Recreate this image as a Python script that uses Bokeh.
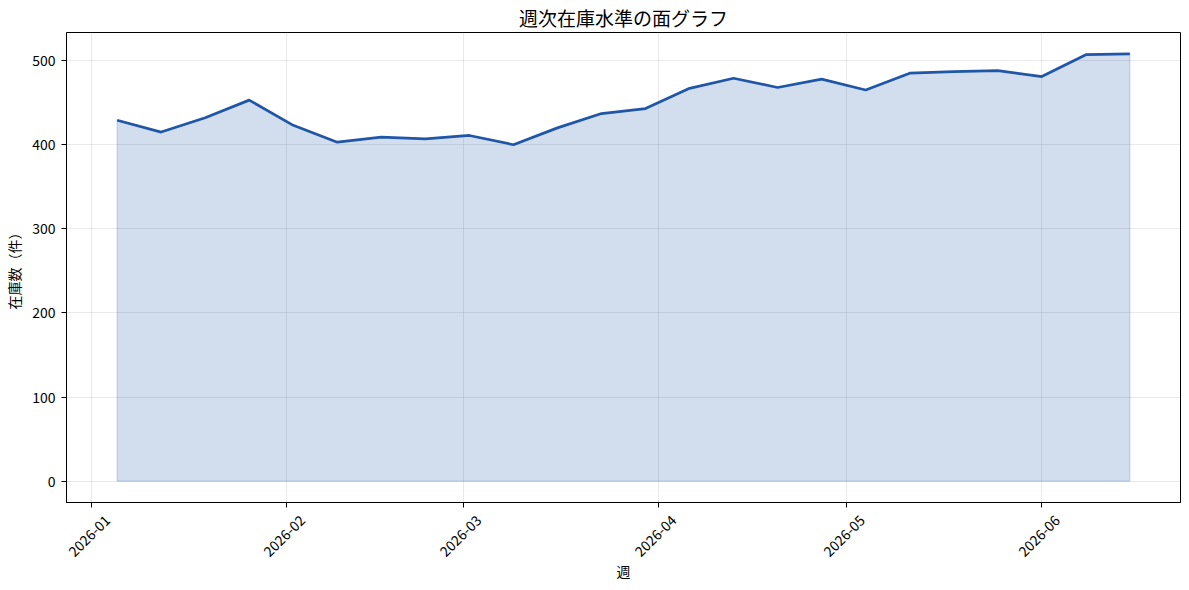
import pandas as pd
import math
from bokeh.plotting import figure
from bokeh.models import Range1d, FixedTicker, DatetimeTickFormatter, ColumnDataSource
from bokeh.embed import file_html
from bokeh.resources import INLINE

# ---- data ----
week_start = "2026-01-05"
n_weeks = 24
stock = [429, 415, 432, 453, 423, 403, 409, 407, 411, 400, 420, 437,
         443, 467, 479, 468, 478, 465, 485, 487, 488, 481, 507, 508]
month_ticks = ["2026-01-01", "2026-02-01", "2026-03-01",
               "2026-04-01", "2026-05-01", "2026-06-01"]
y_ticks = [0, 100, 200, 300, 400, 500]
title_text = "週次在庫水準の面グラフ"
x_label = "週"
y_label = "在庫数（件）"

weeks = pd.date_range(week_start, periods=n_weeks, freq="7D")
FONT = "Noto Sans CJK JP"
LINE = "#1f56a7"

# ---- layout ----
W, H = 1185, 588
BL, BR, BT, BB = 66, 5, 32, 86
frame_w = W - BL - BR

src = ColumnDataSource(dict(x=weeks, y=stock))

span = weeks[-1] - weeks[0]
x0 = weeks[0] - span * 0.05
x1 = weeks[-1] + span * 0.05
ymax = max(stock)
ypad = ymax * 0.05
y0, y1 = -ypad, ymax + ypad

p = figure(width=W, height=H, output_backend="svg", toolbar_location=None,
           x_axis_type="datetime",
           x_range=Range1d(x0, x1), y_range=Range1d(y0, y1),
           min_border_left=BL, min_border_right=BR, min_border_bottom=BB, min_border_top=BT)

p.title.text = title_text
p.title.align = "center"
p.title.text_font = FONT
p.title.text_font_size = "19px"
p.title.text_font_style = "normal"
p.title.text_color = "#000000"
p.title.standoff = 3
p.title.text_line_height = 1.0

# fill area
xs = list(weeks) + list(weeks[::-1])
ys = list(stock) + [0] * len(stock)
p.patch(x=xs, y=ys, fill_color=LINE, fill_alpha=0.2, line_color=LINE, line_alpha=0.2, line_width=1.2)
p.line("x", "y", source=src, line_color=LINE, line_width=2.7)

# x axis: tick marks at month starts (drawn as minor ticks), labels anchored a bit
# to the right so that the rotated labels sit centred under the ticks
tick_ms = [pd.Timestamp(t).value // 10**6 for t in month_ticks]
ms_per_px = (x1 - x0).total_seconds() * 1000 / frame_w
label_ms = [t + 15.4 * ms_per_px for t in tick_ms]
p.xaxis.ticker = FixedTicker(ticks=label_ms, minor_ticks=tick_ms)
fmt = "%Y-%m"
p.xaxis.formatter = DatetimeTickFormatter(milliseconds=fmt, seconds=fmt, minsec=fmt, minutes=fmt,
                                          hourmin=fmt, hours=fmt, days=fmt, months=fmt, years=fmt)
p.xaxis.major_label_orientation = math.pi / 4
p.xaxis.major_tick_line_color = None
p.xaxis.major_tick_out = 5
p.xaxis.major_tick_in = 0
p.xaxis.minor_tick_line_color = "black"
p.xaxis.minor_tick_out = 5
p.xaxis.minor_tick_in = 0
p.xaxis.major_label_standoff = 10
p.xaxis.axis_label_standoff = -4

p.yaxis.ticker = FixedTicker(ticks=y_ticks)
p.yaxis.major_tick_line_color = "black"
p.yaxis.major_tick_out = 5
p.yaxis.major_tick_in = 0
p.yaxis.minor_tick_line_color = None
p.yaxis.major_label_standoff = 6

for ax in (p.xaxis, p.yaxis):
    ax.axis_line_color = "black"
    ax.axis_line_width = 1
    ax.major_label_text_font = FONT
    ax.major_label_text_font_size = "14px"
    ax.major_label_text_color = "#000000"
    ax.axis_label_text_font = FONT
    ax.axis_label_text_font_size = "14px"
    ax.axis_label_text_font_style = "normal"
    ax.axis_label_text_color = "#000000"

p.xaxis.axis_label = x_label
p.yaxis.axis_label = y_label

p.xgrid.ticker = FixedTicker(ticks=tick_ms)
p.ygrid.ticker = FixedTicker(ticks=y_ticks)
for g in (p.xgrid, p.ygrid):
    g.grid_line_color = "#b0b0b0"
    g.grid_line_alpha = 0.35
    g.grid_line_width = 0.8

p.outline_line_color = "black"
p.outline_line_width = 1
p.outline_line_alpha = 1

open("out.html", "w").write(file_html(p, INLINE))
